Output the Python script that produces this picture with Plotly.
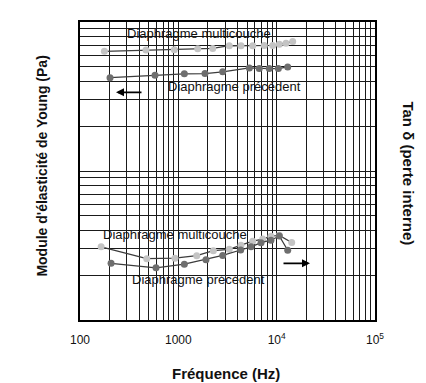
import plotly.graph_objects as go

# ---- data ----
# Young's modulus (left axis, arbitrary log units)
freq_young_multi = [177, 469, 910, 1574, 2238, 3298, 4335, 5705, 7478, 9115, 10650, 12450, 14560]
young_multi = [63.6, 64.9, 65.2, 66.2, 66.5, 69.3, 69.3, 69.3, 69.6, 69.6, 71.0, 72.1, 73.9]
freq_young_prev = [202, 579, 1151, 1866, 2826, 5272, 6655, 8408, 10400, 12950]
young_prev = [42.3, 44.0, 44.9, 45.1, 46.3, 49.2, 48.7, 48.7, 48.7, 49.9]

# Tan delta (right axis, arbitrary log units)
freq_tan_multi = [164, 477, 924, 1538, 2270, 3298, 4335, 5705, 7211, 8745, 10640, 14220]
tan_multi = [3.10, 2.58, 2.60, 2.70, 2.92, 2.98, 3.18, 3.38, 3.49, 3.65, 3.70, 3.31]
freq_tan_prev = [207, 593, 1151, 1910, 2826, 4306, 5484, 6934, 8745, 10640, 12950]
tan_prev = [2.40, 2.24, 2.37, 2.54, 2.71, 2.95, 3.10, 3.30, 3.43, 3.66, 2.94]

x_decades = [100, 1000, 10000, 100000]
x_labels = ["100", "1000", "10<sup>4</sup>", "10<sup>5</sup>"]

# grid positions
x_tickvals = [k * 10 ** d for d in (2, 3, 4) for k in range(1, 10)] + [100000]
x_ticktext = [(x_labels[x_decades.index(v)] if v in x_decades else " ") for v in x_tickvals]
y_tickvals = [k * 10 ** d for d in (0, 1) for k in range(1, 10)] + [100]

LIGHT = "#c4c4c4"
DARK = "#6e6e6e"
LINE = "#3c3c3c"

fig = go.Figure()

def add(xs, ys, mcol, axis):
    fig.add_trace(go.Scatter(
        x=xs, y=ys, mode="lines+markers", yaxis=axis,
        line=dict(color=LINE, width=1.3),
        marker=dict(color=mcol, size=7),
        showlegend=False, hoverinfo="skip"))

add(freq_young_multi, young_multi, LIGHT, "y")
add(freq_young_prev, young_prev, DARK, "y")
add(freq_tan_multi, tan_multi, LIGHT, "y2")
add(freq_tan_prev, tan_prev, DARK, "y2")

FONT = "Liberation Sans, Arial, sans-serif"
OFF = 8  # page body margin
FW, FH = 426 - OFF, 383 - OFF
L, R, T, B = 80, 375, 15, 320
W, H = R - L, B - T

def px(xp):
    return (xp - L) / W

def py(yp):
    return (B - yp) / H

ann = []
def txt(s, x, y, size=12, bold=False, angle=0):
    ann.append(dict(text=(f"<b>{s}</b>" if bold else s), x=px(x), y=py(y),
                    xref="paper", yref="paper", showarrow=False, textangle=angle,
                    font=dict(family=FONT, size=size, color="#111"),
                    xanchor="center", yanchor="middle"))

txt("Diaphragme multicouche", 199, 27, size=13)
txt("Diaphragme précédent", 234, 81, size=13)
txt("Diaphragme multicouche", 175, 233, size=13)
txt("Diaphragme précédent", 198, 279, size=13)
txt("Module d'élasticité de Young (Pa)", 42, 163, size=14, bold=True, angle=-90)
txt("Tan δ (perte interne)", 409, 170, size=15, bold=True, angle=90)
txt("Fréquence (Hz)", 226, 375, size=15, bold=True)

# arrows
ann.append(dict(x=px(116), y=py(87), xref="paper", yref="paper", ax=27, ay=0,
                text="", showarrow=True, arrowhead=2, arrowsize=1, arrowwidth=1.6,
                arrowcolor="black"))
ann.append(dict(x=px(310), y=py(262), xref="paper", yref="paper", ax=-28, ay=0,
                text="", showarrow=True, arrowhead=2, arrowsize=1, arrowwidth=1.6,
                arrowcolor="black"))

fig.update_layout(
    width=FW, height=FH,
    margin=dict(l=L - OFF, r=426 - R, t=T - OFF, b=383 - B),
    paper_bgcolor="white", plot_bgcolor="white",
    font=dict(family=FONT, color="#111"),
    annotations=ann,
    xaxis=dict(type="log", range=[2, 5], tickmode="array",
               tickvals=x_tickvals, ticktext=x_ticktext, tickangle=0,
               showgrid=True, gridcolor="#1a1a1a", gridwidth=1,
               showline=True, linecolor="black", linewidth=2, mirror=True,
               ticks="", ticklabelstandoff=8, tickfont=dict(size=12),
               zeroline=False),
    yaxis=dict(type="log", range=[0, 2], tickmode="array",
               tickvals=y_tickvals, ticktext=[" " for _ in y_tickvals],
               showgrid=True, gridcolor="#1a1a1a", gridwidth=1,
               showline=True, linecolor="black", linewidth=2, mirror=True,
               ticks="", zeroline=False),
    yaxis2=dict(type="log", range=[0, 2], overlaying="y", side="right",
                showgrid=False, showticklabels=False, ticks="",
                zeroline=False, showline=False),
)

fig.write_html("out.html")
